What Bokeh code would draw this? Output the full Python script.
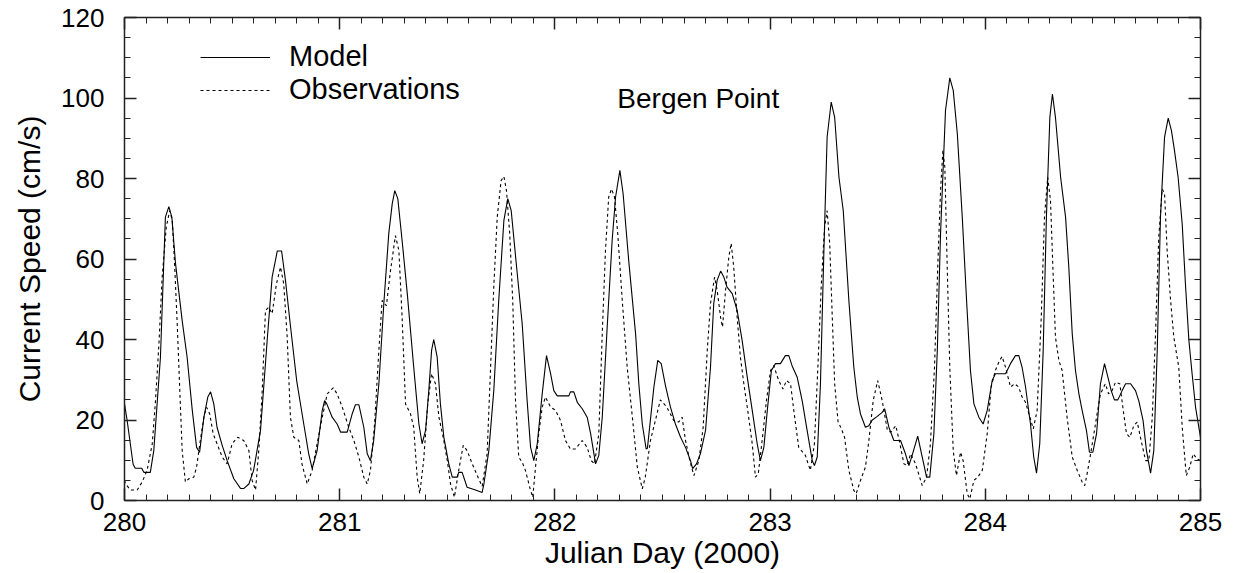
from bokeh.plotting import figure
from bokeh.models import (LinearAxis, SingleIntervalTicker, Range1d, Label,
                          Legend, LegendItem, CustomLabelingPolicy)
from bokeh.embed import file_html
from bokeh.resources import INLINE

# ---------------- data ----------------
model_day = [
    280.000, 280.012, 280.040, 280.050, 280.080, 280.090, 280.120, 280.136, 280.167, 280.190,
    280.206, 280.220, 280.237, 280.268, 280.291, 280.315, 280.335, 280.349, 280.369, 280.387,
    280.400, 280.415, 280.430, 280.454, 280.477, 280.508, 280.539, 280.555, 280.578, 280.600,
    280.632, 280.663, 280.686, 280.710, 280.730, 280.748, 280.770, 280.800, 280.833, 280.856,
    280.872, 280.895, 280.919, 280.930, 280.940, 280.965, 280.988, 281.004, 281.035, 281.058,
    281.073, 281.089, 281.112, 281.128, 281.143, 281.158, 281.182, 281.205, 281.228, 281.244,
    281.256, 281.270, 281.290, 281.314, 281.344, 281.368, 281.383, 281.399, 281.414, 281.427,
    281.437, 281.453, 281.468, 281.484, 281.507, 281.523, 281.545, 281.553, 281.569, 281.592,
    281.631, 281.662, 281.670, 281.693, 281.716, 281.739, 281.763, 281.781, 281.797, 281.822,
    281.848, 281.871, 281.887, 281.902, 281.918, 281.941, 281.961, 281.980, 281.995, 282.011,
    282.065, 282.072, 282.088, 282.104, 282.127, 282.150, 282.166, 282.189, 282.204, 282.220,
    282.243, 282.266, 282.282, 282.302, 282.317, 282.343, 282.375, 282.390, 282.406, 282.424,
    282.430, 282.460, 282.478, 282.494, 282.514, 282.537, 282.560, 282.584, 282.607, 282.630,
    282.640, 282.658, 282.676, 282.700, 282.723, 282.738, 282.754, 282.770, 282.785, 282.800,
    282.824, 282.847, 282.870, 282.894, 282.917, 282.940, 282.955, 282.971, 282.987, 283.006,
    283.025, 283.048, 283.071, 283.087, 283.102, 283.126, 283.149, 283.172, 283.196, 283.206,
    283.219, 283.234, 283.250, 283.265, 283.284, 283.300, 283.320, 283.340, 283.366, 283.389,
    283.405, 283.420, 283.443, 283.459, 283.475, 283.498, 283.521, 283.532, 283.552, 283.575,
    283.606, 283.629, 283.645, 283.660, 283.686, 283.707, 283.727, 283.742, 283.761, 283.777,
    283.792, 283.815, 283.835, 283.851, 283.870, 283.893, 283.913, 283.931, 283.947, 283.970,
    283.990, 284.009, 284.032, 284.047, 284.094, 284.117, 284.140, 284.156, 284.171, 284.187,
    284.210, 284.225, 284.238, 284.253, 284.269, 284.284, 284.300, 284.312, 284.326, 284.350,
    284.373, 284.388, 284.404, 284.419, 284.435, 284.450, 284.470, 284.484, 284.500, 284.517,
    284.535, 284.554, 284.570, 284.585, 284.600, 284.616, 284.636, 284.652, 284.675, 284.698,
    284.713, 284.733, 284.749, 284.768, 284.783, 284.799, 284.814, 284.833, 284.850, 284.865,
    284.879, 284.896, 284.915, 284.930, 284.946, 284.961, 284.977, 285.000,
]
model_speed = [
    24, 20, 9, 8, 8, 7, 7, 12.4, 35.6, 70.4,
    73, 70.4, 58.9, 44.7, 35.6, 22.4, 13.2, 12, 20.7, 25.7,
    27, 24, 18.2, 13.7, 9.9, 5.4, 3, 3, 4.1, 7.5,
    17.4, 39.8, 55.5, 62, 62, 54.7, 43.9, 29.8, 19, 11.6,
    7.9, 12.4, 22.4, 24.8, 24, 20.7, 19, 17, 17, 21.5,
    23.8, 23.8, 18.2, 11.6, 9.9, 14.9, 29, 48.9, 66.3, 73.7,
    77, 75, 64.6, 51.4, 33.1, 19, 14.1, 17.4, 27.3, 37.3,
    40, 35.6, 24, 15.7, 9.1, 5.8, 5.8, 7, 7, 3.3,
    2.6, 2, 4.1, 12.4, 27.3, 49.7, 69.6, 75, 72, 58,
    43.9, 24.8, 13.2, 9.9, 14.1, 26.5, 36, 31.5, 27.3, 26,
    26, 27, 27, 24.4, 22.8, 20.7, 16.6, 9.1, 11.2, 20.7,
    43.1, 64.6, 75.4, 82, 76.2, 59.6, 41.4, 29, 19, 12.8,
    13, 28.2, 34.8, 34, 28.5, 23.2, 19, 15.7, 13.2, 9.9,
    7.9, 9.1, 11.6, 17.4, 33.1, 48.9, 54.7, 57, 55.5, 53,
    51.4, 47.2, 39.8, 30.6, 22.4, 14.1, 9.9, 13.2, 22.4, 32.3,
    34, 34, 36, 36, 33.5, 30.6, 24.8, 17.4, 9.9, 8.7,
    10.8, 29, 62.1, 90.3, 99, 95.2, 80.3, 72, 49.7, 33.1,
    25.7, 21.5, 18.2, 18.6, 20, 20.9, 21.9, 22.8, 18.2, 14.9,
    14.9, 11.6, 8.7, 11.2, 16, 10.8, 5.8, 5.8, 16.6, 37.3,
    66.3, 96.9, 105, 101.9, 91.1, 70.4, 49.7, 32.3, 24, 20.7,
    19, 22.4, 29.8, 31.5, 31.5, 34, 36, 36, 33.1, 28.2,
    19, 10.8, 6.8, 14.1, 37.3, 70.4, 95.2, 101, 95.2, 80.3,
    70.4, 58, 41.4, 32.3, 26.5, 22.4, 17.4, 12, 12, 16.6,
    29, 34, 30.6, 27.3, 25, 25, 27.3, 29, 29, 27.3,
    24.8, 19.9, 12.4, 6.8, 12.4, 37.3, 70.4, 90.3, 95, 91.9,
    87, 80.3, 68.7, 53.8, 39.8, 31.5, 23.2, 15.7,
]

obs_day = [
    280.000, 280.005, 280.028, 280.059, 280.082, 280.105, 280.129, 280.144, 280.160, 280.175,
    280.194, 280.210, 280.222, 280.232, 280.245, 280.257, 280.268, 280.283, 280.299, 280.322,
    280.335, 280.350, 280.369, 280.381, 280.396, 280.412, 280.430, 280.454, 280.477, 280.500,
    280.526, 280.554, 280.578, 280.593, 280.609, 280.624, 280.640, 280.655, 280.670, 280.686,
    280.706, 280.725, 280.740, 280.756, 280.771, 280.787, 280.810, 280.825, 280.849, 280.872,
    280.895, 280.919, 280.942, 280.970, 280.988, 281.012, 281.042, 281.066, 281.089, 281.112,
    281.128, 281.143, 281.162, 281.182, 281.197, 281.217, 281.236, 281.259, 281.275, 281.290,
    281.306, 281.329, 281.344, 281.360, 281.372, 281.390, 281.409, 281.427, 281.445, 281.461,
    281.481, 281.500, 281.515, 281.533, 281.553, 281.574, 281.592, 281.616, 281.639, 281.662,
    281.685, 281.700, 281.716, 281.732, 281.750, 281.763, 281.775, 281.790, 281.804, 281.817,
    281.832, 281.848, 281.863, 281.883, 281.897, 281.910, 281.925, 281.941, 281.956, 281.980,
    282.003, 282.026, 282.049, 282.072, 282.095, 282.127, 282.150, 282.169, 282.184, 282.204,
    282.220, 282.235, 282.250, 282.263, 282.277, 282.292, 282.313, 282.336, 282.360, 282.383,
    282.406, 282.420, 282.444, 282.467, 282.490, 282.520, 282.552, 282.576, 282.591, 282.607,
    282.627, 282.646, 282.669, 282.689, 282.708, 282.723, 282.742, 282.754, 282.770, 282.779,
    282.793, 282.808, 282.819, 282.831, 282.847, 282.862, 282.878, 282.896, 282.917, 282.932,
    282.945, 282.963, 282.983, 283.002, 283.017, 283.040, 283.060, 283.076, 283.095, 283.110,
    283.133, 283.164, 283.187, 283.206, 283.222, 283.238, 283.253, 283.265, 283.277, 283.289,
    283.300, 283.316, 283.330, 283.346, 283.366, 283.389, 283.400, 283.420, 283.443, 283.459,
    283.479, 283.500, 283.521, 283.545, 283.561, 283.584, 283.600, 283.622, 283.637, 283.653,
    283.676, 283.707, 283.727, 283.745, 283.764, 283.779, 283.792, 283.803, 283.812, 283.823,
    283.835, 283.851, 283.866, 283.885, 283.897, 283.916, 283.928, 283.947, 283.965, 283.986,
    284.009, 284.027, 284.047, 284.063, 284.078, 284.094, 284.117, 284.136, 284.155, 284.171,
    284.187, 284.207, 284.223, 284.241, 284.260, 284.275, 284.290, 284.303, 284.314, 284.326,
    284.342, 284.357, 284.380, 284.404, 284.427, 284.450, 284.462, 284.473, 284.492, 284.517,
    284.535, 284.558, 284.573, 284.589, 284.605, 284.625, 284.641, 284.656, 284.672, 284.690,
    284.706, 284.724, 284.745, 284.760, 284.776, 284.791, 284.806, 284.822, 284.833, 284.845,
    284.861, 284.876, 284.899, 284.915, 284.934, 284.950, 284.966, 284.984, 285.000,
]
obs_speed = [
    5, 4.1, 2.6, 2.6, 4.6, 7.5, 14.1, 24.8, 38.9, 55.5,
    67.9, 72, 69.6, 59.6, 43.9, 27.3, 12.4, 4.6, 5.4, 5.8,
    8.3, 14.1, 20.7, 23.2, 21.5, 16.6, 14.1, 10.8, 9.1, 14.1,
    15.7, 14.9, 12.4, 5, 2.6, 12.4, 27.3, 47.2, 48, 46.4,
    53.8, 58, 53.8, 40.6, 20.7, 15.7, 14.9, 9, 4.1, 7.5,
    14.1, 20.7, 26.5, 28, 26.5, 23.2, 18.2, 14.9, 10.8, 5.8,
    4.1, 7.5, 19, 37.3, 49.7, 48.4, 57.1, 65.8, 62.1, 45.5,
    24, 21.5, 18.2, 5.8, 1.7, 9.9, 24, 31.5, 29, 20.7,
    15.7, 9.9, 4.1, 0.8, 7.5, 13.7, 12.4, 9.1, 6.2, 3.5,
    11.6, 31.5, 53, 70.4, 79.5, 80.5, 77, 66.3, 49.7, 24.8,
    10.8, 9.5, 7.5, 3.3, 0.8, 8.3, 16.6, 23.2, 25.7, 23.2,
    22.4, 19.9, 14.9, 12.8, 12.8, 14.9, 13.2, 9.9, 9.1, 16.6,
    41.4, 62.1, 75.4, 77.4, 75.4, 66.3, 49.7, 33.1, 20.7, 8.3,
    2.9, 5.8, 14.9, 19.9, 25, 23.2, 19.9, 19.5, 20.7, 14.9,
    9.9, 6.2, 9.9, 18.2, 37.3, 48.9, 55.5, 52.2, 45.5, 43.1,
    52.2, 60.4, 63.9, 58, 45.5, 35.6, 29, 22.4, 14.1, 5.8,
    6.6, 14.9, 24.8, 32.3, 33.5, 29.8, 27.7, 29.8, 29, 22.4,
    13.2, 11.2, 7.5, 14.1, 33.1, 53.8, 67.9, 72, 63.8, 45.5,
    29, 19.5, 18, 15.7, 7.5, 2.5, 1.7, 5, 8.3, 14.9,
    24.8, 29.8, 24.8, 17.4, 17, 18.6, 14.9, 9.1, 8.7, 11.6,
    9.1, 3.7, 5.8, 14.1, 33.1, 58, 77, 87, 82.8, 58,
    33.1, 12.4, 6.2, 12, 9.9, 1.7, 0.4, 5, 5.8, 7.5,
    16.6, 28.2, 32.3, 34.4, 35.8, 33.1, 28.2, 29, 28.2, 25.7,
    24.4, 20.7, 17.8, 22.4, 45.5, 70.4, 80.3, 74.5, 58, 40.6,
    34.8, 32.3, 20.7, 10.8, 7.5, 4.6, 3.7, 6.6, 12.4, 20.7,
    26.5, 29, 26.5, 27.3, 29.4, 29, 22.4, 16.6, 15.7, 18.6,
    19.5, 14.9, 9.9, 9.9, 20.7, 41.4, 65.4, 77.4, 76.2, 62.1,
    49.7, 40.6, 33.1, 18.2, 6.2, 8.3, 11.6, 10.3, 9.9,
]

x_range = (280, 285)
y_range = (0, 120)
series_names = ["Model", "Observations"]
station = "Bergen Point"
x_title = "Julian Day (2000)"
y_title = "Current Speed (cm/s)"

FONT = "Liberation Sans"

p = figure(width=1232, height=572, output_backend="svg", toolbar_location=None,
           x_range=Range1d(*x_range), y_range=Range1d(*y_range),
           min_border_left=124, min_border_right=32, min_border_top=17,
           min_border_bottom=72, x_axis_location=None, y_axis_location=None)
p.xgrid.visible = False
p.ygrid.visible = False
p.outline_line_color = None
p.background_fill_color = "white"
p.border_fill_color = "white"

xt = SingleIntervalTicker(interval=1, num_minor_ticks=10)
yt = SingleIntervalTicker(interval=20, num_minor_ticks=4)

no_labels = CustomLabelingPolicy(code="""
    const ids = [...indices]
    for (const i of ids) indices.unset(i)
    return indices
""")


def style(ax, labels=True):
    ax.axis_line_color = "#222222"
    ax.axis_line_width = 1.5
    ax.major_tick_line_color = "#222222"
    ax.minor_tick_line_color = "#222222"
    ax.major_tick_line_width = 1.5
    ax.minor_tick_line_width = 1
    ax.major_tick_in = 12
    ax.major_tick_out = 0
    ax.minor_tick_in = 6
    ax.minor_tick_out = 0
    if labels:
        ax.major_label_text_font = FONT
        ax.major_label_text_font_size = "26px"
        ax.major_label_text_color = "black"
        ax.axis_label_text_font = FONT
        ax.axis_label_text_font_size = "30px"
        ax.axis_label_text_font_style = "normal"
        ax.axis_label_text_color = "black"
    else:
        ax.major_label_policy = no_labels
        ax.major_label_text_font_size = "1px"
        ax.major_label_standoff = 0


bottom = LinearAxis(ticker=xt, axis_label=x_title)
style(bottom)
bottom.major_label_standoff = 12
bottom.axis_label_standoff = 2
p.add_layout(bottom, "below")

left = LinearAxis(ticker=yt, axis_label=y_title)
style(left)
left.major_label_standoff = 20
left.axis_label_standoff = 12
p.add_layout(left, "left")

top = LinearAxis(ticker=xt)
style(top, labels=False)
p.add_layout(top, "above")

right = LinearAxis(ticker=yt)
style(right, labels=False)
p.add_layout(right, "right")

r_model = p.line(model_day, model_speed, line_color="black", line_width=1.1)
r_obs = p.line(obs_day, obs_speed, line_color="black", line_width=1.1,
               line_dash="3 3")

legend = Legend(items=[LegendItem(label=series_names[0], renderers=[r_model]),
                       LegendItem(label=series_names[1], renderers=[r_obs])],
                location=(76, 394), orientation="vertical",
                glyph_width=70, glyph_height=28, label_height=28,
                label_standoff=19, spacing=-1, padding=0, margin=0,
                border_line_alpha=0, background_fill_alpha=0,
                label_text_font=FONT, label_text_font_size="29px",
                label_text_color="black")
p.add_layout(legend, "center")

p.add_layout(Label(x=282.29, y=100, text=station, text_font=FONT,
                   text_font_size="28px", text_baseline="middle",
                   text_align="left", text_color="black"))

open("out.html", "w").write(file_html(p, INLINE))
